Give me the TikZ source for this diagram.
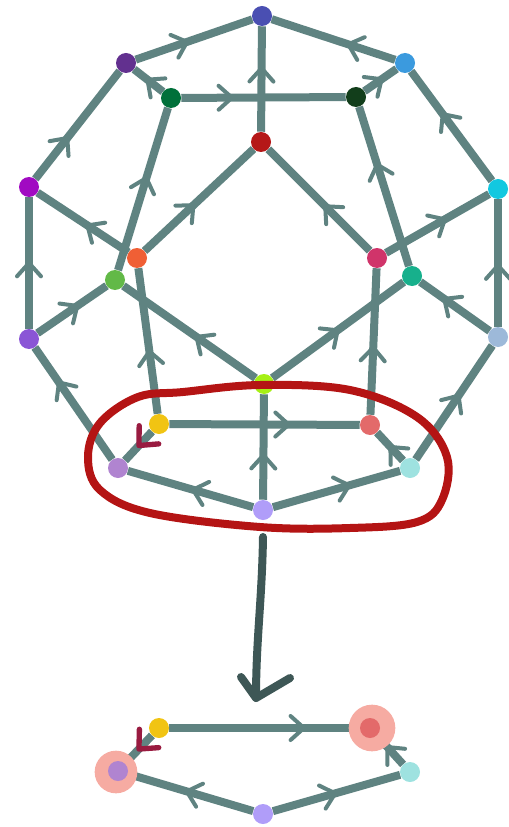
\documentclass[tikz,border=0pt]{standalone}
\usepackage{xcolor}
\usepackage{tikz}
\usetikzlibrary{decorations.markings}
\definecolor{LinkGray}{HTML}{5F8381}
\definecolor{BigArrow}{HTML}{3E5756}
\definecolor{LoopRed}{HTML}{B41414}
\definecolor{Maroon}{HTML}{991B40}
\definecolor{Halo}{HTML}{F6ABA2}
\pgfdeclarelayer{bg}
\pgfsetlayers{bg,main}

\begin{document}
\begin{tikzpicture}[x=0.75pt,y=-0.75pt,
    dot/.style={circle,inner sep=0pt,minimum size=15pt},
    link/.style={line width=6pt,LinkGray},
    fwd/.style={postaction={decorate,decoration={markings,
        mark=at position #1 with {\draw[line width=3pt,line cap=round,line join=round]
        (-9pt,9pt) -- (1pt,0pt) -- (-9pt,-9pt);}}}},
    hot/.style={postaction={decorate,decoration={markings,
        mark=at position #1 with {\draw[Maroon,line width=4pt,line cap=round,line join=round]
        (-10pt,10pt) -- (1pt,0pt) -- (-10pt,-10pt);}}}},
    halo/.style={circle,fill=Halo,minimum size=#1,inner sep=0pt}
]
    \useasboundingbox (0,0) rectangle (509,827);

    % Drawing the vertices of the dodecahedron
    \node[dot,fill={rgb,255:red,74;green,79;blue,178}]   (n1)  at (262,16)  {};
    \node[dot,fill={rgb,255:red,98;green,48;blue,143}]   (n2)  at (126,63)  {};
    \node[dot,fill={rgb,255:red,59;green,154;blue,222}]  (n3)  at (405,63)  {};
    \node[dot,fill={rgb,255:red,0;green,112;blue,58}]    (n4)  at (171,98)  {};
    \node[dot,fill={rgb,255:red,18;green,62;blue,27}]    (n5)  at (356,97)  {};
    \node[dot,fill={rgb,255:red,181;green,24;blue,24}]   (n6)  at (261,142) {};
    \node[dot,fill={rgb,255:red,161;green,10;blue,194}]  (n7)  at (29,187)  {};
    \node[dot,fill={rgb,255:red,18;green,200;blue,224}]  (n8)  at (498,189) {};
    \node[dot,fill={rgb,255:red,240;green,95;blue,53}]   (n9)  at (137,258) {};
    \node[dot,fill={rgb,255:red,208;green,52;blue,106}]  (n10) at (377,258) {};
    \node[dot,fill={rgb,255:red,98;green,185;blue,71}]   (n11) at (115,280) {};
    \node[dot,fill={rgb,255:red,23;green,176;blue,140}]  (n12) at (412,276) {};
    \node[dot,fill={rgb,255:red,138;green,85;blue,214}]  (n13) at (29,339)  {};
    \node[dot,fill={rgb,255:red,157;green,185;blue,217}] (n14) at (498,337) {};
    \node[dot,fill={rgb,255:red,166;green,240;blue,21}]  (n15) at (264,384) {};
    \node[dot,fill={rgb,255:red,241;green,196;blue,19}]  (n16) at (159,424) {};
    \node[dot,fill={rgb,255:red,227;green,106;blue,106}] (n17) at (370,425) {};
    \node[dot,fill={rgb,255:red,176;green,132;blue,208}] (n18) at (118,468) {};
    \node[dot,fill={rgb,255:red,158;green,226;blue,224}] (n19) at (410,468) {};
    \node[dot,fill={rgb,255:red,176;green,157;blue,249}] (n20) at (263,510) {};

    % Drawing the directed edges
    \begin{pgfonlayer}{bg}
    \draw[link,fwd=0.43] (n2) -- (n1);
    \draw[link,fwd=0.37] (n3) -- (n1);
    \draw[link,fwd=0.59] (n6) -- (n1);
    \draw[link,fwd=0.5]  (n4) -- (n2);
    \draw[link,fwd=0.5]  (n5) -- (n3);
    \draw[link,fwd=0.3]  (n4) -- (n5);
    \draw[link,fwd=0.37] (n7) -- (n2);
    \draw[link,fwd=0.6]  (n8) -- (n3);
    \draw[link,fwd=0.56] (n11) -- (n4);
    \draw[link,fwd=0.63] (n12) -- (n5);
    \draw[link,fwd=0.44] (n9) -- (n6);
    \draw[link,fwd=0.43] (n10) -- (n6);
    \draw[link,fwd=0.49] (n13) -- (n7);
    \draw[link,fwd=0.47] (n14) -- (n8);
    \draw[link,fwd=0.44] (n9) -- (n7);
    \draw[link,fwd=0.56] (n10) -- (n8);
    \draw[link,fwd=0.56] (n13) -- (n11);
    \draw[link,fwd=0.64] (n14) -- (n12);
    \draw[link,fwd=0.44] (n15) -- (n11);
    \draw[link,fwd=0.49] (n15) -- (n12);
    \draw[link,fwd=0.42] (n16) -- (n9);
    \draw[link,fwd=0.45] (n17) -- (n10);
    \draw[link,fwd=0.68] (n18) -- (n13);
    \draw[link,fwd=0.55] (n19) -- (n14);
    \draw[link,fwd=0.41] (n20) -- (n15);
    \draw[link,fwd=0.62] (n16) -- (n17);
    \draw[link,hot=0.45] (n16) -- (n18);
    \draw[link,fwd=0.45] (n19) -- (n17);
    \draw[link,fwd=0.47] (n20) -- (n18);
    \draw[link,fwd=0.59] (n20) -- (n19);
    \end{pgfonlayer}

    % Circling the bottom face
    \draw[LoopRed,line width=6pt] plot[smooth cycle,tension=0.6] coordinates {
        (260,385) (350,390) (417,417) (447,457) (442,500) (417,522) (350,528)
        (260,527) (150,513) (100,490) (88,457) (100,423) (138,397) (183,392)};

    % The big arrow down to the cut-out face
    \coordinate (arrtop) at (263,537);
    \coordinate (arrtip) at (256,698);
    \draw[BigArrow,line width=6pt,line cap=round,line join=round]
        (arrtop) .. controls (262,600) and (256,640) .. (arrtip);
    \draw[BigArrow,line width=6pt,line cap=round,line join=round]
        (241,677) -- (arrtip) -- (290,678);

    % The face on its own, with two vertices marked
    \node[halo=35pt] (h17) at (372,728) {};
    \node[halo=32pt] (h18) at (116,772) {};
    \node[dot,fill={rgb,255:red,241;green,196;blue,19}]  (m16) at (159,728) {};
    \node[dot,fill={rgb,255:red,227;green,106;blue,106}] (m17) at (370,728) {};
    \node[dot,fill={rgb,255:red,176;green,132;blue,208}] (m18) at (118,771) {};
    \node[dot,fill={rgb,255:red,158;green,226;blue,224}] (m19) at (410,772) {};
    \node[dot,fill={rgb,255:red,176;green,157;blue,249}] (m20) at (263,814) {};
    \begin{pgfonlayer}{bg}
    \draw[link,fwd=0.7]  (m16) -- (m17);
    \draw[link,hot=0.45] (m16) -- (m18);
    \draw[link,fwd=0.57] (m19) -- (m17);
    \draw[link,fwd=0.52] (m20) -- (m18);
    \draw[link,fwd=0.48] (m20) -- (m19);
    \end{pgfonlayer}
\end{tikzpicture}
\end{document}
